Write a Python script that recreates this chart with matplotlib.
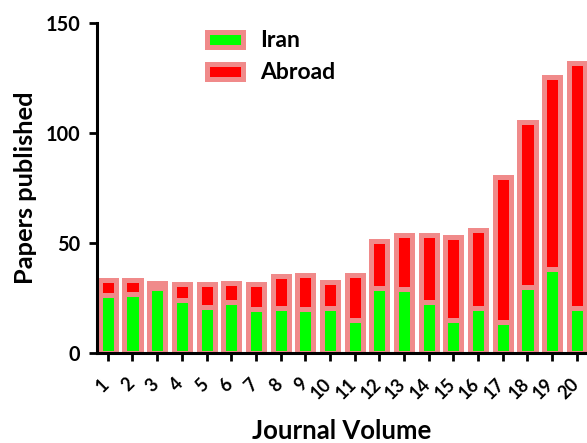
import matplotlib
matplotlib.use("Agg")
import matplotlib.pyplot as plt
import matplotlib.transforms as mtransforms
import numpy as np

volumes = [str(i) for i in range(1, 21)]
iran = [26.5, 27, 29.5, 24, 21, 23, 20, 20.5, 20, 20.5, 15, 29.5, 29, 23, 15, 20.5, 14, 30, 38, 20.5]
total = [33, 33, 32, 31.5, 31.5, 32, 31.5, 35, 35.5, 32.5, 35.5, 51, 53.5, 53.5, 52.7, 56, 80, 105, 125.5, 132]
abroad = [t - i for t, i in zip(total, iran)]

plt.rcParams['font.family'] = ['Lato', 'DejaVu Sans']
plt.rcParams['font.weight'] = 'bold'

fig = plt.figure(figsize=(5.87, 4.43), dpi=100)
ax = fig.add_axes([97/587, 90/443, 490/587, 330/443])

x = np.arange(1, 21)
edge = '#F08A8A'
lw = 3.6
w = 0.65
ax.bar(x, iran, width=w, color='#00FF00', edgecolor=edge, linewidth=lw, label='Iran')
ax.bar(x, abroad, bottom=iran, width=w, color='#FF0000', edgecolor=edge, linewidth=lw, label='Abroad')

ax.set_xlim(0.563, 20.41)
ax.set_ylim(0, 150)
ax.set_yticks([0, 50, 100, 150])
ax.set_xticks(x)

for s in ['top', 'right']:
    ax.spines[s].set_visible(False)
for s in ['left', 'bottom']:
    ax.spines[s].set_linewidth(2.2)
ax.tick_params(axis='both', width=2, length=6, direction='out')
ax.tick_params(axis='x', pad=10)
ax.tick_params(axis='y', pad=6)

ax.set_xticklabels(volumes, rotation=45, ha='right', fontsize=13, fontweight='bold')
offset = mtransforms.ScaledTranslation(5/100, 0, fig.dpi_scale_trans)
for lab in ax.get_xticklabels():
    lab.set_transform(lab.get_transform() + offset)
for lab in ax.get_yticklabels():
    lab.set_fontsize(14.3)
    lab.set_fontweight('bold')

ax.set_xlabel('Journal Volume', fontsize=18.5, fontweight='bold', va='top')
ax.xaxis.set_label_coords(0.5, (353 - 419) / 330)
ax.set_ylabel('Papers published', fontsize=18.3, fontweight='bold', labelpad=6)

leg = fig.legend(loc='upper left', bbox_to_anchor=(196/587, 1 - 19/443), frameon=False,
                 borderpad=0, handlelength=1.57, handleheight=0.65, handletextpad=0.74,
                 labelspacing=0.48, prop={'size': 16.5, 'weight': 'bold'})

fig.savefig('out.png', dpi=100)
